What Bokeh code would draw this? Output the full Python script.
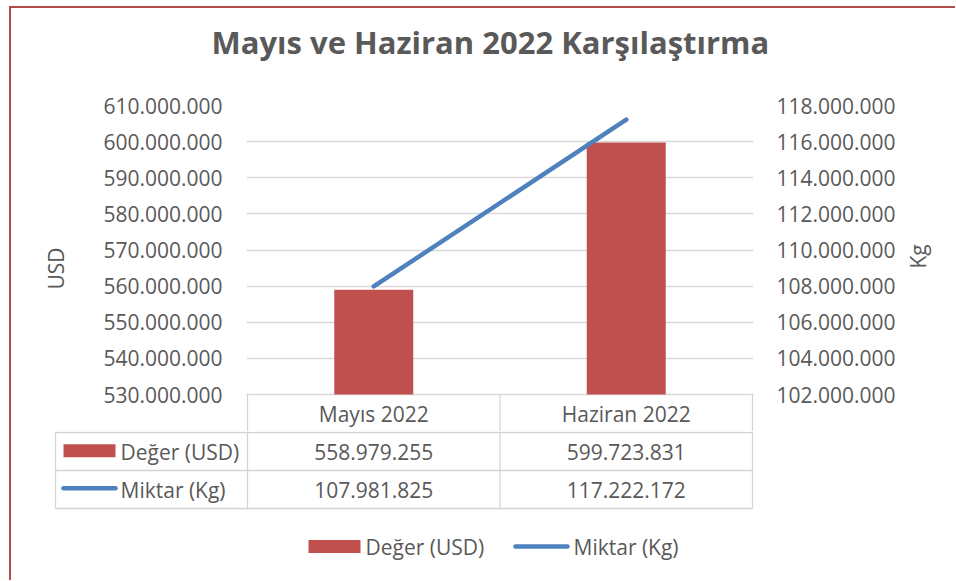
import math
from bokeh.plotting import figure
from bokeh.models import Range1d, LinearAxis, FixedTicker, Title, Div, Spacer
from bokeh.layouts import column, row
from bokeh.embed import file_html
from bokeh.resources import INLINE
from bokeh.core.properties import value

# ---------------- data ----------------
categories = ["Mayıs 2022", "Haziran 2022"]
series_names = ["Değer (USD)", "Miktar (Kg)"]
usd_values = [558979255, 599723831]
kg_values = [107981825, 117222172]
usd_ticks = [530000000, 540000000, 550000000, 560000000, 570000000,
             580000000, 590000000, 600000000, 610000000]
kg_ticks = [102000000, 104000000, 106000000, 108000000, 110000000,
            112000000, 114000000, 116000000, 118000000]
usd_tick_labels = ["530.000.000", "540.000.000", "550.000.000", "560.000.000", "570.000.000",
                   "580.000.000", "590.000.000", "600.000.000", "610.000.000"]
kg_tick_labels = ["102.000.000", "104.000.000", "106.000.000", "108.000.000", "110.000.000",
                  "112.000.000", "114.000.000", "116.000.000", "118.000.000"]
title_text = "Mayıs ve Haziran 2022 Karşılaştırma"
usd_axis_label = "USD"
kg_axis_label = "Kg"

# ---------------- style / layout ----------------
BAR_COLOR = "#C0504D"
LINE_COLOR = "#4F81BD"
TEXT_COLOR = "#595959"
GRID_COLOR = "#D9D9D9"
TABLE_COLOR = "#D4D4D4"
BORDER_COLOR = "#B04A47"
FONT = "Open Sans"
FS = "21px"

PAGE_X, PAGE_Y = 11, 8               # where the chart's canvas starts on the page
BORDER_W = 2
W = 944
FRAME_L, FRAME_R = 247, 752          # plot area, page px
PLOT_TOP, PLOT_BOT = 105, 394
ROW_H = 38
TABLE_L = 55
SPLIT = 431                          # page y where figure A ends / B starts
B_BOTTOM = 580
PX_CAT = (FRAME_R - FRAME_L) / len(categories)
BAR_W = 79 / PX_CAT


def fmt(v):
    return f"{v:,}".replace(",", ".")


def ux(px):  # page x -> category units
    return (px - FRAME_L) / PX_CAT


def fig_common(fig):
    fig.outline_line_color = None
    fig.background_fill_color = "white"
    fig.border_fill_color = "white"
    fig.toolbar.logo = None
    try:
        fig.frame_align = False
    except Exception:
        pass


# ---------------- figure A: plot area ----------------
usd_lo, usd_hi = usd_ticks[0], usd_ticks[-1]
kg_lo, kg_hi = kg_ticks[0], kg_ticks[-1]
upp_usd = (usd_hi - usd_lo) / (PLOT_BOT - PLOT_TOP)
upp_kg = (kg_hi - kg_lo) / (PLOT_BOT - PLOT_TOP)

pA = figure(width=W, height=SPLIT - PAGE_Y, output_backend="svg", toolbar_location=None,
            x_axis_type=None, title=None,
            x_range=Range1d(ux(FRAME_L - 1), ux(FRAME_R + 1)),
            y_range=Range1d(usd_lo - (SPLIT - PLOT_BOT) * upp_usd, usd_hi),
            min_border_left=FRAME_L - 1 - PAGE_X, min_border_right=PAGE_X + W - FRAME_R - 1,
            min_border_top=PLOT_TOP - PAGE_Y, min_border_bottom=0)
fig_common(pA)
pA.extra_y_ranges = {"kg": Range1d(kg_lo - (SPLIT - PLOT_BOT) * upp_kg, kg_hi)}

# spacer between plot area and title, then the title itself
pA.add_layout(Title(text=" ", text_font_size="1px", standoff=40), "above")
pA.add_layout(Title(text=title_text, text_font=FONT, text_font_size="31px",
                    text_font_style="bold", text_color=TEXT_COLOR, align="left",
                    offset=212 - FRAME_L, standoff=0), "above")


def style_axis(ax, ticks, labels, bounds, standoff, lab_standoff):
    ax.ticker = FixedTicker(ticks=ticks)
    ax.major_label_overrides = {t: l for t, l in zip(ticks, labels)}
    ax.bounds = bounds
    ax.axis_line_color = None
    ax.major_tick_line_color = None
    ax.minor_tick_line_color = None
    ax.major_tick_out = 0
    ax.major_tick_in = 0
    ax.major_label_standoff = standoff
    ax.major_label_text_font = FONT
    ax.major_label_text_font_size = FS
    ax.major_label_text_color = TEXT_COLOR
    ax.axis_label_text_font = FONT
    ax.axis_label_text_font_size = FS
    ax.axis_label_text_font_style = "normal"
    ax.axis_label_text_color = TEXT_COLOR
    ax.axis_label_standoff = lab_standoff


yl = pA.yaxis[0]
yl.axis_label = usd_axis_label
style_axis(yl, usd_ticks, usd_tick_labels, (usd_lo, usd_hi), 24, 30)

yr = LinearAxis(y_range_name="kg", axis_label=kg_axis_label)
style_axis(yr, kg_ticks, kg_tick_labels, (kg_lo, kg_hi), 23, 19)
yr.axis_label_orientation = math.pi / 2
pA.add_layout(yr, "right")

pA.ygrid.ticker = FixedTicker(ticks=usd_ticks)
pA.ygrid.grid_line_color = GRID_COLOR
pA.ygrid.grid_line_width = 1.3

xs = [i + 0.5 for i in range(len(categories))]
pA.vbar(x=xs, top=usd_values, bottom=usd_lo, width=BAR_W, fill_color=BAR_COLOR, line_color=None)
pA.line(x=xs, y=kg_values, y_range_name="kg", line_color=LINE_COLOR, line_width=4.5,
        line_cap="round")

# header row of the data table
hdr_y = usd_lo - (ROW_H / 2) * upp_usd
pA.text(x=xs, y=[hdr_y] * len(xs), text=categories, text_align="center",
        text_baseline="middle", text_font=value(FONT), text_font_size=FS, text_color=TEXT_COLOR)
vx = list(range(len(categories) + 1))
pA.segment(x0=vx, x1=vx, y0=[usd_lo] * len(vx),
           y1=[usd_lo - (SPLIT - PLOT_BOT + 2) * upp_usd] * len(vx),
           line_color=TABLE_COLOR, line_width=1.3)

# ---------------- figure B: data table rows + legend ----------------
pB = figure(width=W, height=B_BOTTOM - SPLIT, output_backend="svg", toolbar_location=None,
            x_axis_type=None, y_axis_type=None,
            x_range=Range1d(ux(TABLE_L - 1), ux(FRAME_R + 1)),
            y_range=Range1d((B_BOTTOM - SPLIT - 1) / ROW_H, -1 / ROW_H),
            min_border_left=TABLE_L - 1 - PAGE_X, min_border_right=PAGE_X + W - FRAME_R - 1,
            min_border_top=0, min_border_bottom=0)
fig_common(pB)

nrows = len(series_names)
x_tl = ux(TABLE_L)
hy = list(range(nrows + 1))
pB.segment(x0=[x_tl] * len(hy), x1=[len(categories)] * len(hy), y0=hy, y1=hy,
           line_color=TABLE_COLOR, line_width=1.3)
vxb = [x_tl] + vx
pB.segment(x0=vxb, x1=vxb, y0=[0] * len(vxb), y1=[nrows] * len(vxb),
           line_color=TABLE_COLOR, line_width=1.3)

# label column: keys + names
pB.rect(x=[(ux(63) + ux(115)) / 2], y=[0.48], width=ux(115) - ux(63), height=13 / ROW_H,
        fill_color=BAR_COLOR, line_color=None)
pB.line(x=[ux(63), ux(115)], y=[1.47, 1.47], line_color=LINE_COLOR, line_width=4.5,
        line_cap="round")
pB.text(x=[ux(120)] * nrows, y=[r + 0.5 for r in range(nrows)], text=series_names,
        text_align="left", text_baseline="middle", text_font=value(FONT),
        text_font_size=FS, text_color=TEXT_COLOR)

# values
cell_x, cell_y, cell_t = [], [], []
for r, vals in enumerate([usd_values, kg_values]):
    for c, v in enumerate(vals):
        cell_x.append(c + 0.5)
        cell_y.append(r + 0.5)
        cell_t.append(fmt(v))
pB.text(x=cell_x, y=cell_y, text=cell_t, text_align="center", text_baseline="middle",
        text_font=value(FONT), text_font_size=FS, text_color=TEXT_COLOR)

# bottom legend
leg_y = (545 - SPLIT) / ROW_H
pB.rect(x=[(ux(308) + ux(360)) / 2], y=[leg_y], width=ux(360) - ux(308), height=13 / ROW_H,
        fill_color=BAR_COLOR, line_color=None)
pB.line(x=[ux(515), ux(567)], y=[leg_y, leg_y], line_color=LINE_COLOR, line_width=4.5,
        line_cap="round")
pB.text(x=[ux(365), ux(573)], y=[leg_y, leg_y], text=series_names, text_align="left",
        text_baseline="middle", text_font=value(FONT), text_font_size=FS, text_color=TEXT_COLOR)

# chart-area border (left and top edges; the others lie outside the window)
BX, BY = PAGE_X - BORDER_W, PAGE_Y - BORDER_W
top_bar = Div(text="", width=W + BORDER_W, height=BORDER_W, margin=0,
              styles={"background-color": BORDER_COLOR})
left_bar = Div(text="", width=BORDER_W, height=B_BOTTOM - PAGE_Y, margin=0,
               styles={"background-color": BORDER_COLOR})

layout = column(
    Spacer(width=10, height=BY, margin=0),
    row(Spacer(width=BX, height=BORDER_W, margin=0), top_bar, spacing=0, margin=0),
    row(Spacer(width=BX, height=10, margin=0), left_bar, column(pA, pB, spacing=0, margin=0),
        spacing=0, margin=0),
    spacing=0, margin=0,
)

open("out.html", "w").write(file_html(layout, INLINE))
